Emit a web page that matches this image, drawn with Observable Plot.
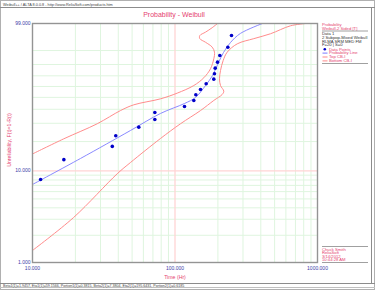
<!DOCTYPE html>
<html>
<head>
<meta charset="utf-8">
<script src="https://cdn.jsdelivr.net/npm/d3@7"></script>
<script src="https://cdn.jsdelivr.net/npm/@observablehq/plot@0.6"></script>
<style>
  html, body { margin: 0; padding: 0; background: #fff; }
  #chart svg { display: block; }
</style>
</head>
<body>
<div id="chart"></div>
<script>
// ---- data (Time in Hr, Unreliability in %) ----
const pointTime  = [11.4, 16.6, 36.3, 38.4, 55.7, 72.2, 72.2, 116.6, 135.5, 140, 151, 165.5, 187.2, 189.3, 191.5, 198.8, 206.3, 234.8, 249.2];
const pointUnrel = [8.1, 13.1, 17.9, 22.8, 27.6, 32.5, 37.5, 42.2, 47.2, 52.3, 57.2, 62.5, 66.9, 71.9, 76.9, 81.9, 86.8, 91.8, 96.6];

const lineTime  = [10, 21.7, 48.7, 79.1, 116.6, 139.3, 163.7, 183.4, 202, 219, 245.2, 288.3, 411];
const lineUnrel = [7.16, 13.46, 25.65, 36.8, 44.7, 49.9, 60.9, 70.3, 81.6, 88.8, 94.1, 97.2, 99];

const topTime  = [10, 16.58, 28.45, 41.45, 51.4, 79.1, 103.6, 135.5, 159.3, 177.5, 187.2, 189.3, 182.4, 163.7, 149.3, 149.3, 163.7, 182.4, 198.7];
const topUnrel = [15.0, 21.3, 29.7, 39.0, 43.6, 48.7, 53.8, 60.9, 68.2, 76.4, 84.5, 89.0, 91.9, 94.2, 95.6, 96.6, 97.5, 98.4, 99];

const botTime  = [10, 19.4, 39.3, 48.7, 79.1, 109.3, 151, 187.2, 214.4, 220, 208.6, 205.3, 208.6, 217.8, 232.5, 273.3, 357.3, 468, 646.6, 823.8];
const botUnrel = [1.36, 3.13, 9.31, 12.23, 21.45, 29.7, 39.0, 47.3, 52.6, 55.6, 60.9, 67.2, 74.8, 83.2, 89.0, 93.5, 95.6, 97.1, 98.7, 99];

const xTicks = [10, 100, 1000];
const yTicks = [1, 10, 99];
const xGridMinor = [20, 30, 40, 50, 60, 70, 80, 90, 200, 300, 400, 500, 600, 700, 800, 900];
const yGridMinor = [2, 3, 4, 5, 6, 7, 8, 9, 20, 30, 40, 50, 60, 70, 80, 90];
const xGridMajor = [100];
const yGridMajor = [10];

const legendItems = ["Data Points", "Probability Line", "Top CB-I", "Bottom CB-I"];

// Weibull probability-paper transform
const wt = p => Math.log(-Math.log(1 - p / 100));
const zip = (ts, fs) => ts.map((t, i) => ({t, F: fs[i]}));
const points = zip(pointTime, pointUnrel);
const probLine = zip(lineTime, lineUnrel);
const topCB = zip(topTime, topUnrel);
const botCB = zip(botTime, botUnrel);

const PINK = "#e5426f";
const TICK = "#3a3aa8";
const FONT = "'Liberation Sans', Arial, sans-serif";
const fmt = d3.format(".3f");

const chart = Plot.plot({
  width: 375,
  height: 290,
  marginLeft: 32,
  marginRight: 58,
  marginTop: 23,
  marginBottom: 28,
  style: {fontFamily: FONT, background: "#fff", overflow: "visible"},
  x: {type: "log", domain: [10, 1000], axis: null},
  y: {type: "linear", domain: [wt(1), wt(99)], axis: null},
  marks: [
    Plot.ruleX(xGridMinor, {x: d => d, stroke: "#dff5df", strokeWidth: 1}),
    Plot.ruleY(yGridMinor, {y: d => wt(d), stroke: "#dff5df", strokeWidth: 1}),
    Plot.ruleX(xGridMajor, {x: d => d, stroke: "#ffd4d4", strokeWidth: 1.3}),
    Plot.ruleY(yGridMajor, {y: d => wt(d), stroke: "#ffd4d4", strokeWidth: 1.3}),
    Plot.line(topCB, {x: "t", y: d => wt(d.F), stroke: "#ff8c8c", strokeWidth: 1, curve: "catmull-rom", clip: true}),
    Plot.line(botCB, {x: "t", y: d => wt(d.F), stroke: "#ff8c8c", strokeWidth: 1, curve: "catmull-rom", clip: true}),
    Plot.line(probLine, {x: "t", y: d => wt(d.F), stroke: "#8a8aff", strokeWidth: 1, curve: "catmull-rom", clip: true}),
    Plot.dot(points, {x: "t", y: d => wt(d.F), fill: "#0000c8", r: 1.8}),
    Plot.frame({stroke: "#949494", strokeWidth: 1.4}),
    Plot.text(xTicks, {x: d => d, frameAnchor: "bottom", dy: 4, text: d => fmt(d), fill: TICK, fontSize: 5, lineAnchor: "top"}),
    Plot.text(yTicks, {y: d => wt(d), frameAnchor: "left", dx: -2, textAnchor: "end", text: d => fmt(d), fill: TICK, fontSize: 5})
  ]
});

document.getElementById("chart").appendChild(chart);

// ---- decorations: window frame, title, labels, legend, info ----
const svg = d3.select(chart);
const g = svg.append("g").attr("font-family", FONT).attr("text-anchor", "start");

// window frame
g.append("rect").attr("x", 0.5).attr("y", 0.5).attr("width", 374).attr("height", 289)
  .attr("fill", "none").attr("stroke", "#b0b0b0");
g.append("line").attr("x1", 0).attr("x2", 375).attr("y1", 7.5).attr("y2", 7.5).attr("stroke", "#8c8c8c");
g.append("line").attr("x1", 371.5).attr("x2", 371.5).attr("y1", 7.5).attr("y2", 284).attr("stroke", "#8c8c8c");
g.append("line").attr("x1", 0).attr("x2", 375).attr("y1", 283.5).attr("y2", 283.5).attr("stroke", "#8c8c8c");
g.append("line").attr("x1", 0).attr("x2", 375).attr("y1", 287.5).attr("y2", 287.5).attr("stroke", "#c0c0c0");

g.append("text").attr("x", 3).attr("y", 5.5).attr("font-size", 3.8).attr("fill", "#444")
  .text("Weibull++ / ALTA 8.0.0.8 - http://www.ReliaSoft.com/products.htm");

g.append("text").attr("x", 3).attr("y", 286.8).attr("font-size", 3.6).attr("fill", "#444")
  .text("Beta1(1)=1.9457, Eta1(1)=59.1566, Portion1(1)=0.3815, Beta2(1)=7.3804, Eta2(1)=195.6431, Portion2(1)=0.6185");

// title
g.append("text").attr("x", 174).attr("y", 17).attr("text-anchor", "middle")
  .attr("font-size", 7).attr("fill", PINK).text("Probability - Weibull");

// axis titles
g.append("text").attr("x", 175).attr("y", 278.5).attr("text-anchor", "middle")
  .attr("font-size", 5.2).attr("fill", PINK).text("Time (Hr)");
g.append("text").attr("transform", "translate(10.5,140) rotate(-90)").attr("text-anchor", "middle")
  .attr("font-size", 5.2).attr("fill", PINK).text("Unreliability, F(t)=1-R(t)");

// legend block
const LX = 322, TX = 329;
const fs = 4.2;
g.append("text").attr("x", LX).attr("y", 25.5).attr("font-size", fs).attr("fill", PINK).text("Probability");
g.append("text").attr("x", LX).attr("y", 29.5).attr("font-size", fs).attr("fill", PINK).text("Weibull-2 Sided [T]");
g.append("line").attr("x1", LX).attr("x2", 368).attr("y1", 31).attr("y2", 31).attr("stroke", "#888").attr("stroke-width", 0.8);
const infoLines = ["Data 1", "2 Subpop-Mixed Weibull", "RLMA SRM MED FM", "F=20 | S=0"];
infoLines.forEach((s, i) => {
  g.append("text").attr("x", LX).attr("y", 35 + i * 3.8).attr("font-size", fs).attr("fill", "#333").text(s);
});
legendItems.forEach((s, i) => {
  const y = 50.5 + i * 3.9;
  g.append("text").attr("x", TX).attr("y", y).attr("font-size", fs).attr("fill", PINK).text(s);
  if (i === 0) {
    g.append("circle").attr("cx", 324.8).attr("cy", y - 1.3).attr("r", 1.3).attr("fill", "#0000c8");
  } else {
    g.append("line").attr("x1", 322.5).attr("x2", 327.5).attr("y1", y - 1.3).attr("y2", y - 1.3)
      .attr("stroke", i === 1 ? "#6a6aff" : "#ff7a7a").attr("stroke-width", 0.9);
  }
});
g.append("line").attr("x1", LX).attr("x2", 368).attr("y1", 63.5).attr("y2", 63.5).attr("stroke", "#888").attr("stroke-width", 0.8);

// user/date block
g.append("line").attr("x1", LX).attr("x2", 368).attr("y1", 246.5).attr("y2", 246.5).attr("stroke", "#888").attr("stroke-width", 0.8);
["Chuck Smith", "ReliaSoft", "3/14/2012", "10:44:28 AM"].forEach((s, i) => {
  g.append("text").attr("x", LX).attr("y", 250.5 + i * 3.6).attr("font-size", fs).attr("fill", PINK).text(s);
});
g.append("line").attr("x1", LX).attr("x2", 368).attr("y1", 262.5).attr("y2", 262.5).attr("stroke", "#888").attr("stroke-width", 0.8);
</script>
</body>
</html>
